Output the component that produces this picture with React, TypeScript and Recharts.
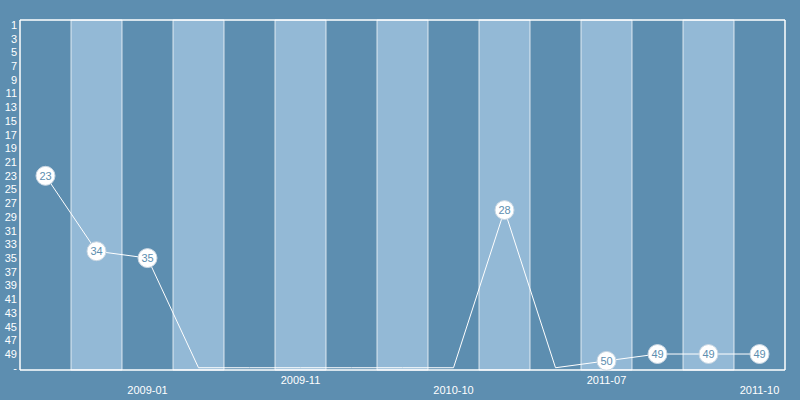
import { ComposedChart, Bar, Line, XAxis, YAxis, ReferenceLine } from 'recharts';

// Categories (period) and chart positions; null = not ranked ("-")
const periods = [
  '2008-09', '2008-11', '2009-01', '2009-04', '2009-08', '2009-11', '2010-02', '2010-06',
  '2010-10', '2011-01', '2011-04', '2011-07', '2011-08', '2011-09', '2011-10',
];
const ranks: (number | null)[] = [23, 34, 35, null, null, null, null, null, null, 28, null, 50, 49, 49, 49];
const shownLabels = ['2009-01', '2009-11', '2010-10', '2011-07', '2011-10'];
const rankTicks = [1, 3, 5, 7, 9, 11, 13, 15, 17, 19, 21, 23, 25, 27, 29, 31, 33, 35, 37, 39, 41, 43, 45, 47, 49, 51];

const UNRANKED = 51;
const BG = '#5d8eb0';
const LIGHT = '#93b9d6';
const FONT = "'Liberation Sans', Arial, sans-serif";

const data = periods.map((p, i) => ({
  period: p,
  rank: ranks[i],
  plot: ranks[i] ?? UNRANKED,
  band: i % 2 === 1 ? 1 : 0,
}));

function PeriodTick({ x, y, payload }: any) {
  const idx = shownLabels.indexOf(payload.value);
  if (idx < 0) return null;
  const dy = idx % 2 === 1 ? 2 : 12;
  return (
    <text x={x} y={y + dy} textAnchor="middle" dominantBaseline="central" fill="#fff" fontSize={11} fontFamily={FONT}>
      {payload.value}
    </text>
  );
}

function RankDot({ cx, cy, payload }: any) {
  if (payload.rank == null) return null;
  return (
    <g>
      <circle cx={cx} cy={cy} r={9.5} fill="#fff" stroke="#c8d6e2" strokeWidth={1} />
      <text x={cx} y={cy} textAnchor="middle" dominantBaseline="central" fill={BG} fontSize={11} fontFamily={FONT}>
        {payload.rank}
      </text>
    </g>
  );
}

export default function App() {
  return (
    <div style={{ position: 'absolute', left: 0, top: 0, width: 800, height: 400, background: BG }}>
      <ComposedChart
        width={800}
        height={400}
        data={data}
        margin={{ top: 20, right: 0, bottom: 0, left: 0 }}
        barCategoryGap={0}
        barGap={0}
      >
        <XAxis
          dataKey="period"
          height={30}
          axisLine={{ stroke: '#fff', strokeWidth: 1.5 }}
          tickLine={false}
          interval={0}
          tick={<PeriodTick />}
        />
        <YAxis
          yAxisId="rank"
          type="number"
          reversed
          domain={[0.27, 51.33]}
          ticks={rankTicks}
          interval={0}
          width={20}
          axisLine={{ stroke: '#fff', strokeWidth: 1.5 }}
          tickLine={false}
          tickSize={0}
          tickMargin={3}
          tick={{ fill: '#fff', fontSize: 11, fontFamily: FONT }}
          tickFormatter={(v: number) => (v === UNRANKED ? '-' : String(v))}
        />
        <YAxis
          yAxisId="band"
          orientation="right"
          domain={[0, 1]}
          width={15}
          axisLine={{ stroke: '#fff', strokeWidth: 1.5 }}
          tickLine={false}
          tick={false}
        />
        <Bar
          yAxisId="band"
          dataKey="band"
          fill={LIGHT}
          stroke="rgba(255,255,255,0.75)"
          strokeWidth={1}
          isAnimationActive={false}
        />
        <ReferenceLine yAxisId="band" y={1} stroke="#fff" strokeWidth={1.5} />
        <Line
          yAxisId="rank"
          type="linear"
          dataKey="plot"
          stroke="#fff"
          strokeWidth={1}
          dot={<RankDot />}
          activeDot={false}
          isAnimationActive={false}
        />
      </ComposedChart>
    </div>
  );
}
